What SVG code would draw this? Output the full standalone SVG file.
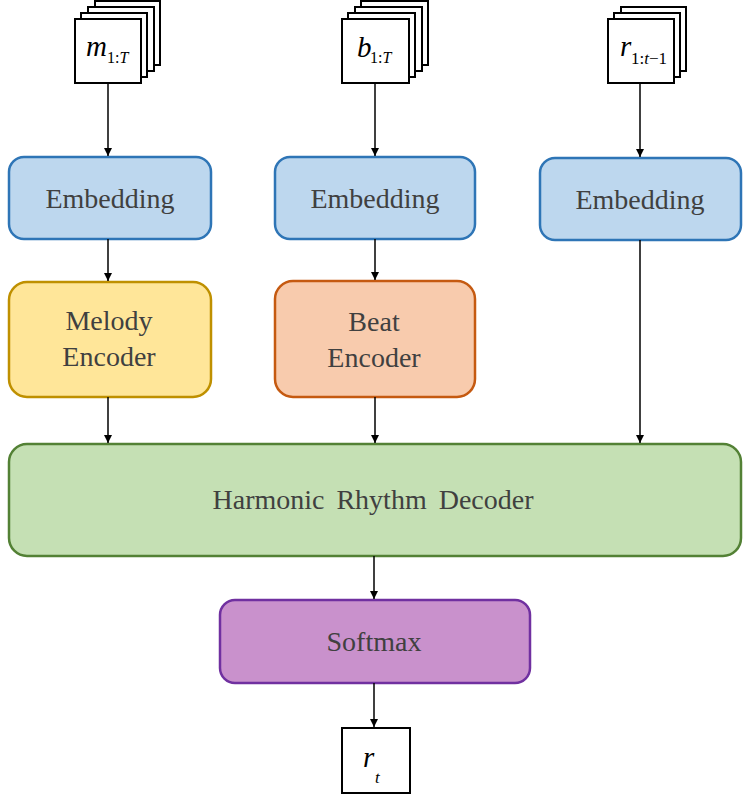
<svg xmlns="http://www.w3.org/2000/svg" width="749" height="797" viewBox="0 0 749 797">
<defs>
<marker id="arr" markerWidth="10" markerHeight="10" refX="9" refY="5" orient="auto" markerUnits="userSpaceOnUse" viewBox="0 0 10 10">
<path d="M1,1 L9,5 L1,9 Z" fill="#000"/>
</marker>
</defs>
<rect width="749" height="797" fill="#fff"/>
<g id="input-m" fill="#fff" stroke="#000" stroke-width="2">
<rect x="95" y="1" width="65" height="64"/>
<rect x="88" y="7" width="66" height="64"/>
<rect x="81" y="13" width="66" height="64"/>
<rect x="75" y="19" width="66" height="64"/>
<text x="86" y="56" font-family="Liberation Serif" font-size="29" font-style="italic" fill="#000" stroke="none">m</text>
<text x="107" y="63" font-family="Liberation Serif" font-size="16" fill="#000" stroke="none">1:<tspan font-style="italic">T</tspan></text>
</g>
<g id="input-b" fill="#fff" stroke="#000" stroke-width="2">
<rect x="361" y="1" width="67" height="64"/>
<rect x="355" y="7" width="67" height="64"/>
<rect x="348" y="13" width="67" height="64"/>
<rect x="342" y="19" width="67" height="64"/>
<text x="357" y="57" font-family="Liberation Serif" font-size="29" font-style="italic" fill="#000" stroke="none">b</text>
<text x="370" y="63" font-family="Liberation Serif" font-size="16" fill="#000" stroke="none">1:<tspan font-style="italic">T</tspan></text>
</g>
<g id="input-r" fill="#fff" stroke="#000" stroke-width="2">
<rect x="621" y="7" width="65" height="64"/>
<rect x="614" y="13" width="66" height="64"/>
<rect x="608" y="19" width="66" height="64"/>
<text x="620" y="56" font-family="Liberation Serif" font-size="29" font-style="italic" fill="#000" stroke="none">r</text>
<text x="631" y="64" font-family="Liberation Serif" font-size="17" fill="#000" stroke="none">1:<tspan font-style="italic">t</tspan>−1</text>
</g>
<g id="emb1">
<rect x="9" y="157" width="202" height="82" rx="15" fill="#BDD7EE" stroke="#2E75B6" stroke-width="2.5"/>
<text x="110" y="208" font-family="Liberation Serif" font-size="28" fill="#404040" text-anchor="middle">Embedding</text>
</g>
<g id="emb2">
<rect x="275" y="157" width="200" height="82" rx="15" fill="#BDD7EE" stroke="#2E75B6" stroke-width="2.5"/>
<text x="375" y="208" font-family="Liberation Serif" font-size="28" fill="#404040" text-anchor="middle">Embedding</text>
</g>
<g id="emb3">
<rect x="540" y="158" width="201" height="82" rx="15" fill="#BDD7EE" stroke="#2E75B6" stroke-width="2.5"/>
<text x="640" y="209" font-family="Liberation Serif" font-size="28" fill="#404040" text-anchor="middle">Embedding</text>
</g>
<g id="melody">
<rect x="9" y="282" width="202" height="115" rx="18" fill="#FFE699" stroke="#BF9000" stroke-width="2.5"/>
<text x="109" y="330" font-family="Liberation Serif" font-size="28" fill="#404040" text-anchor="middle">Melody</text>
<text x="109" y="366" font-family="Liberation Serif" font-size="28" fill="#404040" text-anchor="middle">Encoder</text>
</g>
<g id="beat">
<rect x="275" y="281" width="200" height="116" rx="18" fill="#F8CBAD" stroke="#C55A11" stroke-width="2.5"/>
<text x="374" y="331" font-family="Liberation Serif" font-size="28" fill="#404040" text-anchor="middle">Beat</text>
<text x="374" y="367" font-family="Liberation Serif" font-size="28" fill="#404040" text-anchor="middle">Encoder</text>
</g>
<g id="decoder">
<rect x="9" y="444" width="732" height="112" rx="18" fill="#C5E0B4" stroke="#538135" stroke-width="2.5"/>
<text x="373" y="509" font-family="Liberation Serif" font-size="28" fill="#404040" text-anchor="middle" word-spacing="5">Harmonic Rhythm Decoder</text>
</g>
<g id="softmax">
<rect x="220" y="600" width="310" height="83" rx="15" fill="#C991CC" stroke="#7030A0" stroke-width="2.5"/>
<text x="374" y="651" font-family="Liberation Serif" font-size="28" fill="#404040" text-anchor="middle">Softmax</text>
</g>
<g id="output-r">
<rect x="342" y="728" width="68" height="65" fill="#fff" stroke="#000" stroke-width="2"/>
<text x="363" y="767" font-family="Liberation Serif" font-size="29" font-style="italic" fill="#000">r</text>
<text x="375" y="783" font-family="Liberation Serif" font-size="17" font-style="italic" fill="#000">t</text>
</g>
<g id="connectors" stroke="#000" stroke-width="1.5" fill="none" marker-end="url(#arr)">
<line x1="108" y1="83" x2="108" y2="156"/>
<line x1="375" y1="83" x2="375" y2="156"/>
<line x1="640" y1="83" x2="640" y2="157"/>
<line x1="108" y1="239" x2="108" y2="281"/>
<line x1="375" y1="239" x2="375" y2="280"/>
<line x1="108" y1="397" x2="108" y2="443"/>
<line x1="375" y1="397" x2="375" y2="443"/>
<line x1="640" y1="240" x2="640" y2="443"/>
<line x1="374" y1="556" x2="374" y2="599"/>
<line x1="374" y1="683" x2="374" y2="727"/>
</g>
</svg>
